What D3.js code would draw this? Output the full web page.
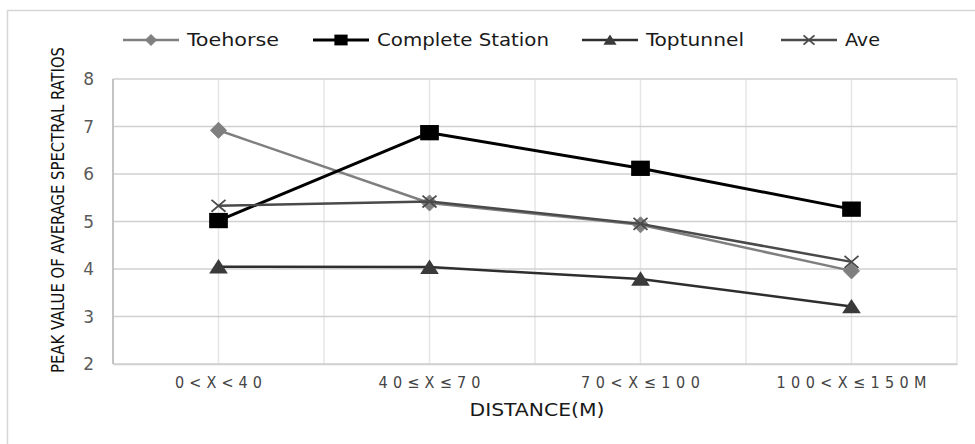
<!DOCTYPE html>
<html><head><meta charset="utf-8">
<script src="https://cdn.jsdelivr.net/npm/d3@7"></script>
<style>
html,body{margin:0;padding:0;background:#fff;}
text{font-family:"DejaVu Sans Condensed","Liberation Sans Narrow",sans-serif;}
</style></head>
<body><svg id="c" width="975" height="444"></svg>
<script>
const categories = ["0<X<40", "40≤X≤70", "70<X≤100", "100<X≤150M"];
const toehorse = [6.92, 5.39, 4.93, 3.96];
const completeStation = [5.02, 6.87, 6.12, 5.26];
const toptunnel = [4.05, 4.04, 3.79, 3.21];
const ave = [5.33, 5.42, 4.95, 4.15];
const yTicks = [2, 3, 4, 5, 6, 7, 8];
const seriesNames = ["Toehorse", "Complete Station", "Toptunnel", "Ave"];
const yTitle = "PEAK VALUE OF AVERAGE SPECTRAL RATIOS";
const xTitle = "DISTANCE(M)";

const series = [
  {name: seriesNames[0], values: toehorse, color: "#7f7f7f", marker: "diamond", width: 2.5},
  {name: seriesNames[1], values: completeStation, color: "#000000", marker: "square", width: 3},
  {name: seriesNames[2], values: toptunnel, color: "#2e2e2e", marker: "triangle", width: 2.5},
  {name: seriesNames[3], values: ave, color: "#4a4a4a", marker: "x", width: 2.5}
];

const svg = d3.select("#c");
const L = 113, R = 957, T = 79, B = 364;

// outer frame
svg.append("rect").attr("x", 7.5).attr("y", 10.5).attr("width", 1100).attr("height", 600)
  .attr("fill", "none").attr("stroke", "#d6d6d6").attr("stroke-width", 1.5);

const x = d3.scaleBand().domain(categories).range([L, R]).padding(0);
const y = d3.scaleLinear().domain([2, 8]).range([B, T]);

// vertical grid (category centers and boundaries)
const vLines = [];
categories.forEach(c => { vLines.push(x(c) + x.bandwidth() / 2); vLines.push(x(c) + x.bandwidth()); });
svg.append("g").selectAll("line").data(vLines).join("line")
  .attr("x1", d => d).attr("x2", d => d).attr("y1", T).attr("y2", B)
  .attr("stroke", "#e6e6e6").attr("stroke-width", 1.5);

// horizontal grid
svg.append("g").selectAll("line").data(yTicks).join("line")
  .attr("x1", L).attr("x2", R).attr("y1", d => y(d)).attr("y2", d => y(d))
  .attr("stroke", "#d0d0d0").attr("stroke-width", 1.5);

// left axis line
svg.append("line").attr("x1", L).attr("x2", L).attr("y1", T).attr("y2", B)
  .attr("stroke", "#c4c4c4").attr("stroke-width", 2);

// y axis via d3.axisLeft
const yAxis = svg.append("g").attr("transform", `translate(${L},0)`)
  .call(d3.axisLeft(y).tickValues(yTicks).tickSize(0).tickPadding(19).tickFormat(d3.format("d")));
yAxis.select(".domain").remove();
yAxis.selectAll("text").attr("font-size", 17).attr("fill", "#5a5a5a")
  .style("font-family", "'DejaVu Sans', sans-serif").attr("dy", "0.35em");

// x axis
const xAxis = svg.append("g").attr("transform", `translate(0,${B})`)
  .call(d3.axisBottom(x).tickSize(0).tickPadding(13));
xAxis.select(".domain").attr("stroke", "#d0d0d0").attr("stroke-width", 1.5);
const xLabelWidths = [87, 102, 119, 150];
xAxis.selectAll("text").attr("font-size", 16).attr("fill", "#444")
  .attr("dy", "0.71em")
  .attr("textLength", (d, i) => xLabelWidths[i]).attr("lengthAdjust", "spacing");

// titles
svg.append("text").attr("x", 537).attr("y", 416).attr("text-anchor", "middle")
  .attr("font-size", 17).attr("fill", "#1a1a1a").attr("textLength", 135).attr("lengthAdjust", "spacingAndGlyphs")
  .text(xTitle);
svg.append("text").attr("transform", "translate(64,210) rotate(-90)").attr("text-anchor", "middle")
  .attr("font-size", 18).attr("fill", "#111").attr("textLength", 326).attr("lengthAdjust", "spacingAndGlyphs")
  .text(yTitle);

// marker drawing
function drawMarker(g, type, cx, cy, color, s) {
  if (type === "diamond") {
    g.append("path").attr("d", `M${cx},${cy - s}L${cx + s},${cy}L${cx},${cy + s}L${cx - s},${cy}Z`)
      .attr("fill", color).attr("stroke", color).attr("stroke-width", 1);
  } else if (type === "square") {
    g.append("rect").attr("x", cx - s * 1.1).attr("y", cy - s * 0.9).attr("width", s * 2.2).attr("height", s * 1.8)
      .attr("fill", color);
  } else if (type === "triangle") {
    g.append("path").attr("d", `M${cx},${cy - s * 0.9}L${cx + s * 1.1},${cy + s * 0.8}L${cx - s * 1.1},${cy + s * 0.8}Z`)
      .attr("fill", color);
  } else if (type === "x") {
    g.append("path").attr("d", `M${cx - s},${cy - s * 0.85}L${cx + s},${cy + s * 0.85}M${cx - s},${cy + s * 0.85}L${cx + s},${cy - s * 0.85}`)
      .attr("stroke", color).attr("stroke-width", 1.8).attr("fill", "none");
  }
}

const line = d3.line().x((d, i) => x(categories[i]) + x.bandwidth() / 2).y(d => y(d));
const markerSize = {diamond: 8, square: 8.5, triangle: 8.5, x: 7};
series.forEach(s => {
  const g = svg.append("g");
  g.append("path").datum(s.values).attr("d", line).attr("fill", "none")
    .attr("stroke", s.color).attr("stroke-width", s.width).attr("stroke-linejoin", "round");
  s.values.forEach((v, i) => {
    drawMarker(g, s.marker, x(categories[i]) + x.bandwidth() / 2, y(v), s.marker === "triangle" ? "#3a3a3a" : s.color, markerSize[s.marker]);
  });
});

// legend
const legendX = [123, 313, 582, 781];
const legendTextW = [92, 172, 98, 35];
const legendY = 40;
series.forEach((s, i) => {
  const g = svg.append("g");
  const x0 = legendX[i];
  g.append("line").attr("x1", x0).attr("x2", x0 + 56).attr("y1", legendY).attr("y2", legendY)
    .attr("stroke", s.color).attr("stroke-width", s.width);
  const ms = {diamond: 5.5, square: 6, triangle: 6, x: 5.5}[s.marker];
  drawMarker(g, s.marker, x0 + 28, legendY, s.marker === "triangle" ? "#3a3a3a" : s.color, ms);
  g.append("text").attr("x", x0 + 64).attr("y", legendY).attr("dy", "0.36em")
    .attr("font-size", 17).attr("fill", "#1a1a1a")
    .attr("textLength", legendTextW[i]).attr("lengthAdjust", "spacingAndGlyphs")
    .text(s.name);
});
</script></body></html>
